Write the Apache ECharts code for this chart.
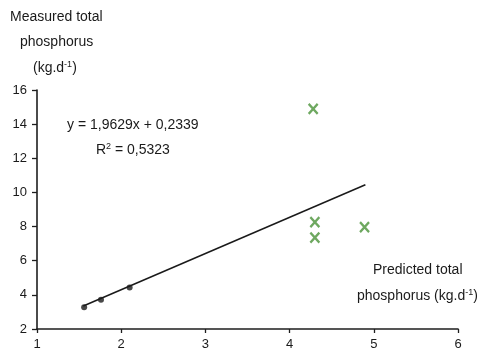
<!DOCTYPE html>
<html><head><meta charset="utf-8">
<script src="https://cdn.jsdelivr.net/npm/echarts@6/dist/echarts.min.js"></script>
<style>html,body{margin:0;padding:0;background:#fff}#c{width:480px;height:348px}</style>
</head><body><div id="c"></div>
<script>
var xTicks = [1, 2, 3, 4, 5, 6];
var yTicks = [2, 4, 6, 8, 10, 12, 14, 16];
var calibX = [1.56, 1.76, 2.10];
var calibY = [3.28, 3.71, 4.43];
var validX = [4.28, 4.30, 4.30, 4.89];
var validY = [14.9, 8.26, 7.35, 7.97];
var fitX = [1.55, 4.9];
var fitY = [3.35, 10.45];
var equationText = 'y = 1,9629x + 0,2339';
var r2Text = '0,5323';

var chart = echarts.init(document.getElementById('c'), null, {renderer: 'canvas'});
var font = '"Liberation Sans", Arial, sans-serif';
var txt = '#1a1a1a';
function pairs(xs, ys){ return xs.map(function(x,i){return [x, ys[i]];}); }
var xPath = 'path://M0,0 L10,10 M10,0 L0,10';
var sup = {s: {fontSize: 9, fontFamily: font, verticalAlign: 'top', padding: [0,0,7,0], fill: txt}};
chart.setOption({
  backgroundColor: '#ffffff',
  animation: false,
  grid: {left: 37, right: 22, top: 90, bottom: 19, containLabel: false, outerBoundsMode: 'none'},
  xAxis: {
    type: 'value', min: xTicks[0], max: xTicks[xTicks.length-1], interval: 1,
    splitLine: {show: false},
    axisLine: {lineStyle: {color: '#1e1e1e', width: 1.6}},
    axisTick: {show: true, length: 4, lineStyle: {color: '#1e1e1e', width: 1.3}},
    axisLabel: {color: txt, fontFamily: font, fontSize: 13, margin: 9}
  },
  yAxis: {
    type: 'value', min: yTicks[0], max: yTicks[yTicks.length-1], interval: 2,
    splitLine: {show: false},
    axisLine: {show: true, lineStyle: {color: '#1e1e1e', width: 1.6}},
    axisTick: {show: true, length: 5, lineStyle: {color: '#1e1e1e', width: 1.3}},
    axisLabel: {color: txt, fontFamily: font, fontSize: 13, margin: 10}
  },
  series: [
    {type: 'line', data: pairs(fitX, fitY), symbol: 'none',
     lineStyle: {color: '#1a1a1a', width: 1.5}, z: 2},
    {type: 'scatter', data: pairs(calibX, calibY), symbol: 'circle', symbolSize: 6,
     itemStyle: {color: '#1a1a1a'}, z: 3},
    {type: 'scatter', data: pairs(validX, validY), symbol: xPath, symbolSize: [9, 10],
     itemStyle: {color: 'none', borderColor: '#4a9238', borderWidth: 2.4}, z: 3}
  ],
  graphic: [
    {type: 'text', left: 10, top: 10, style: {text: 'Measured total', font: '14px ' + font, fill: txt}},
    {type: 'text', left: 20, top: 35, style: {text: 'phosphorus', font: '14px ' + font, fill: txt}},
    {type: 'text', left: 33, top: 60, style: {text: '(kg.d{s|-1})', font: '14px ' + font, fill: txt, rich: sup}},
    {type: 'text', left: 67, top: 118, style: {text: equationText, font: '14px ' + font, fill: txt}},
    {type: 'text', left: 96, top: 142, style: {text: 'R{s|2} = ' + r2Text, font: '14px ' + font, fill: txt, rich: sup}},
    {type: 'text', left: 373, top: 263, style: {text: 'Predicted total', font: '14px ' + font, fill: txt}},
    {type: 'text', left: 357, top: 288, style: {text: 'phosphorus (kg.d{s|-1})', font: '14px ' + font, fill: txt, rich: sup}}
  ]
});
</script></body></html>
